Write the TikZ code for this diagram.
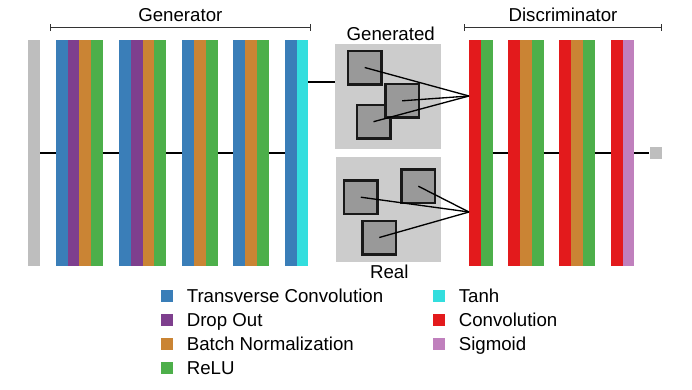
\documentclass[tikz,border=0pt]{standalone}
\usepackage{fontspec}
\setmainfont{Liberation Sans}
\usetikzlibrary{positioning,arrows.meta}
\definecolor{tconv}{HTML}{3A7EB8}
\definecolor{dropout}{HTML}{7E3F8E}
\definecolor{bnorm}{HTML}{CA8434}
\definecolor{relu}{HTML}{4DAF4A}
\definecolor{tanhc}{HTML}{33DEDE}
\definecolor{conv}{HTML}{E31A1C}
\definecolor{sigm}{HTML}{C080BD}
\definecolor{inputgray}{HTML}{BEBEBE}
\definecolor{panelgray}{HTML}{CCCCCC}
\definecolor{imggray}{HTML}{999999}
\begin{document}
\begin{tikzpicture}[
        x=0.75pt, y=-0.75pt,
        font=\fontsize{14}{16}\selectfont,
        layer/.style={
            rectangle,
            inner sep=0pt,
            outer sep=0pt,
            minimum width=8.85pt,
            minimum height=169.5pt
        },
        panel/.style={
            rectangle,
            fill=panelgray,
            inner sep=0pt,
            minimum size=79pt
        },
        frame/.style={
            rectangle,
            draw=black!90,
            line width=2pt,
            fill=imggray,
            inner sep=0pt,
            minimum size=25pt
        },
        link/.style={
            draw=black,
            line width=1pt
        },
        bracket/.style={
            draw=black!80,
            line width=0.8pt,
            {Bar[width=5pt]}-{Bar[width=5pt]}
        },
        key/.style={
            rectangle,
            inner sep=0pt,
            minimum size=9pt
        },
        keytext/.style={
            inner sep=0pt,
            text height=10pt,
            text depth=0pt
        }
    ]

    \useasboundingbox (0,0) rectangle (692,389);

    \draw[bracket] (50,27.7) -- node[above=0.6pt] {Generator} (310.7,27.7);
    \draw[bracket] (464.3,27.7) -- node[above=0.6pt] {Discriminator} (661.7,27.7);

    \node[layer, fill=inputgray, minimum width=9pt, anchor=north west] (input) at (28.3,40) {};

    \node[layer, fill=tconv, anchor=north west] (g1a) at (55.7,40) {};
    \node[layer, fill=dropout, right=0pt of g1a] (g1b) {};
    \node[layer, fill=bnorm, right=0pt of g1b] (g1c) {};
    \node[layer, fill=relu, right=0pt of g1c] (g1d) {};

    \node[layer, fill=tconv, anchor=north west] (g2a) at (119,40) {};
    \node[layer, fill=dropout, right=0pt of g2a] (g2b) {};
    \node[layer, fill=bnorm, right=0pt of g2b] (g2c) {};
    \node[layer, fill=relu, right=0pt of g2c] (g2d) {};

    \node[layer, fill=tconv, anchor=north west] (g3a) at (182.3,40) {};
    \node[layer, fill=bnorm, right=0pt of g3a] (g3b) {};
    \node[layer, fill=relu, right=0pt of g3b] (g3c) {};

    \node[layer, fill=tconv, anchor=north west] (g4a) at (233.3,40) {};
    \node[layer, fill=bnorm, right=0pt of g4a] (g4b) {};
    \node[layer, fill=relu, right=0pt of g4b] (g4c) {};

    \node[layer, fill=tconv, anchor=north west] (g5a) at (284.7,40) {};
    \node[layer, fill=tanhc, right=0pt of g5a] (g5b) {};

    \draw[link] (input) -- (g1a);
    \draw[link] (g1d) -- (g2a);
    \draw[link] (g2d) -- (g3a);
    \draw[link] (g3c) -- (g4a);
    \draw[link] (g4c) -- (g5a);

    \node[panel] (genpanel) at (387.9,96.2) {};
    \node[panel] (realpanel) at (388.3,209.8) {};
    \node (genlabel) at (390.7,34.3) {Generated};
    \node (reallabel) at (389.3,271.7) {Real};

    \coordinate (genin) at (genpanel.west |- 0,82);
    \draw[link] (g5b.east |- genin) -- (genin);

    \node[frame] (gen1) at (364.7,67.5) {};
    \node[frame] (gen3) at (373.5,121.7) {};
    \node[frame] (gen2) at (402.2,100.8) {};

    \node[frame] (real1) at (360.8,197.2) {};
    \node[frame] (real2) at (418.3,186.2) {};
    \node[frame] (real3) at (379.3,237.5) {};

    \node[layer, fill=conv, anchor=north west] (d1a) at (469,40) {};
    \node[layer, fill=relu, right=0pt of d1a] (d1b) {};

    \node[layer, fill=conv, anchor=north west] (d2a) at (508.3,40) {};
    \node[layer, fill=bnorm, right=0pt of d2a] (d2b) {};
    \node[layer, fill=relu, right=0pt of d2b] (d2c) {};

    \node[layer, fill=conv, anchor=north west] (d3a) at (559.3,40) {};
    \node[layer, fill=bnorm, right=0pt of d3a] (d3b) {};
    \node[layer, fill=relu, right=0pt of d3b] (d3c) {};

    \node[layer, fill=conv, anchor=north west] (d4a) at (610.7,40) {};
    \node[layer, fill=sigm, right=0pt of d4a] (d4b) {};

    \node[key, fill=inputgray] (out) at (655.5,153) {};

    \coordinate (dgen) at (d1a.west |- 0,96);
    \coordinate (dreal) at (d1a.west |- 0,212);

    \draw[link] (gen1.center) -- (dgen);
    \draw[link] (gen2.center) -- (dgen);
    \draw[link] (gen3.center) -- (dgen);
    \draw[link] (real1.center) -- (dreal);
    \draw[link] (real2.center) -- (dreal);
    \draw[link] (real3.center) -- (dreal);

    \draw[link] (d1b) -- (d2a);
    \draw[link] (d2c) -- (d3a);
    \draw[link] (d3c) -- (d4a);
    \draw[link] (d4b) -- (out);

    \node[key, fill=tconv] (ktconv) at (167.2,296.3) {};
    \node[key, fill=dropout, below=8.6pt of ktconv] (kdrop) {};
    \node[key, fill=bnorm, below=8.6pt of kdrop] (kbnorm) {};
    \node[key, fill=relu, below=8.6pt of kbnorm] (krelu) {};
    \node[keytext, right=9.8pt of ktconv] (ltconv) {Transverse Convolution};
    \node[keytext, right=9.8pt of kdrop] (ldrop) {Drop Out};
    \node[keytext, right=9.8pt of kbnorm] (lbnorm) {Batch Normalization};
    \node[keytext, right=9.8pt of krelu] (lrelu) {ReLU};

    \node[key, fill=tanhc] (ktanh) at (439.2,296.3) {};
    \node[key, fill=conv, below=8.6pt of ktanh] (kconv) {};
    \node[key, fill=sigm, below=8.6pt of kconv] (ksigm) {};
    \node[keytext, right=9.8pt of ktanh] (ltanh) {Tanh};
    \node[keytext, right=9.8pt of kconv] (lconv) {Convolution};
    \node[keytext, right=9.8pt of ksigm] (lsigm) {Sigmoid};

    \end{tikzpicture}
\end{document}
